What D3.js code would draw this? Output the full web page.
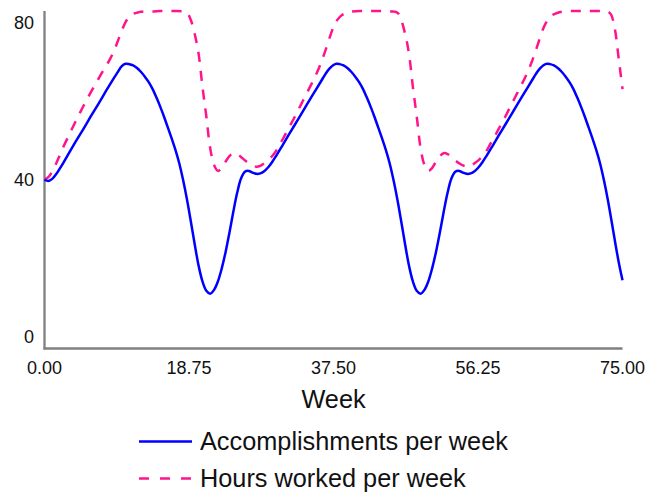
<!DOCTYPE html>
<html>
<head>
<meta charset="utf-8">
<script src="https://cdn.jsdelivr.net/npm/d3@7/dist/d3.min.js"></script>
<style>
  html, body { margin: 0; padding: 0; background: #fff; }
  svg { display: block; }
  text { font-family: "Liberation Sans", Arial, sans-serif; fill: #111; }
</style>
</head>
<body>
<div id="chart"></div>
<script>
// ---------- data ----------
const xTicks = [0, 18.75, 37.5, 56.25, 75];
const yTicks = [0, 40, 80];
const xLabel = "Week";
const seriesNames = ["Accomplishments per week", "Hours worked per week"];

const weeksAcc = [0,0.5,1,1.5,2,2.5,3,4,5,6,7,8,9,9.5,10,10.5,11,11.5,12,12.5,13,13.5,14,14.5,15,15.5,16,16.5,17,17.5,18,18.5,19,19.5,20,20.5,21,21.5,
  22,22.5,23,23.5,24,24.5,25,25.5,26,26.5,27,27.5,28,28.5,29,29.5,30,30.5,31,32,33,34,35,36,36.5,37,37.5,37.9,
  38.3,38.8,39.3,39.8,40.3,40.8,41.3,41.8,42.3,42.8,43.3,43.8,44.3,44.8,45.3,45.8,46.3,46.8,47.3,47.8,48.3,48.8,
  49.3,49.8,50.3,50.8,51.3,51.8,52.3,52.8,53.3,53.8,54.3,54.8,55.3,55.8,56.3,56.8,57.3,57.8,58.3,59.3,60.3,61.3,62.3,63.3,63.8,64.3,64.8,65.2,
  65.6,66.1,66.6,67.1,67.6,68.1,68.6,69.1,69.6,70.1,70.6,71.1,71.6,72.1,72.6,73.1,73.6,74.1,74.6,75];
const accomplishments = [40.0,39.7,40.2,41.3,42.7,44.2,45.8,48.9,51.9,55.0,58.0,61.1,64.1,65.5,66.9,67.5,67.4,67.1,66.5,65.6,64.5,63.2,61.6,59.6,57.4,55.0,52.4,49.8,47.0,43.8,39.8,35.2,30.0,24.6,19.6,15.9,13.7,13.0,
  13.9,15.9,19.0,22.9,27.5,32.4,36.9,40.3,41.9,42.1,41.7,41.4,41.5,42.0,42.9,44.1,45.5,47.0,48.5,51.6,54.6,57.7,60.7,63.7,65.2,66.4,67.2,67.5,
  67.4,67.1,66.5,65.6,64.5,63.2,61.6,59.6,57.4,55.0,52.4,49.8,47.0,43.8,39.8,35.2,30.0,24.6,19.6,15.9,13.7,13.0,
  13.9,15.9,19.0,22.9,27.5,32.4,36.9,40.3,41.9,42.1,41.7,41.4,41.5,42.0,42.9,44.1,45.5,47.0,48.5,51.6,54.6,57.7,60.7,63.7,65.2,66.4,67.2,67.5,
  67.4,67.1,66.5,65.6,64.5,63.2,61.6,59.6,57.4,55.0,52.4,49.8,47.0,43.8,39.8,35.2,30.0,24.6,19.6,16.2];

const weeksHours = [0,0.5,1,1.5,2,2.5,3,3.5,4,4.5,5,5.5,6,6.5,7,7.5,8,8.5,9,9.5,10,10.5,11,11.5,12,12.5,
  13,14,15,16,17,18,
  18.5,19,19.5,20,20.5,21,21.5,22,22.5,23,23.5,24,24.5,25,25.5,26,26.5,27,27.5,28,28.5,29,29.5,30,30.5,31,31.5,32,32.5,33,33.5,34,34.5,35,35.5,36,36.5,37,37.5,38,38.5,39,39.5,40,
  41,42,43,44,45,
  45.8,46.3,46.8,47.3,47.8,48.3,48.8,49.3,49.8,
  50.3,50.8,51.3,51.8,52.3,52.8,53.3,53.8,54.3,54.8,55.3,55.8,56.3,56.8,57.3,57.8,
  58.3,58.8,59.3,59.8,60.3,60.8,61.3,61.8,62.3,62.8,63.3,63.8,64.3,64.8,65.3,65.8,66.3,66.8,67.3,
  68.3,69.3,70.3,71.3,72.3,
  73,73.5,74,74.5,75];
const hours = [40.0,40.6,42.0,43.8,45.9,48.0,49.9,51.8,53.7,55.5,57.3,59.0,60.7,62.3,63.9,65.5,67.0,68.6,70.5,72.8,75.2,77.3,78.6,79.3,79.6,79.8,
  79.9,79.9,80.0,80.0,80.0,79.9,
  79.6,77.8,74.5,69.8,62.0,55.0,47.5,43.5,42.1,42.8,44.3,45.6,46.3,46.1,45.4,44.6,43.9,43.4,43.1,43.3,43.9,44.6,45.5,46.7,48.3,49.9,51.6,53.3,55.0,56.8,58.6,60.4,62.2,64.0,66.0,68.3,70.9,73.7,76.2,77.9,78.9,79.4,79.7,79.9,
  80.0,80.0,80.0,80.0,79.9,
  79.6,77.8,74.5,69.8,62.0,55.0,47.5,43.5,42.1,
  42.8,44.3,45.6,46.3,46.1,45.4,44.6,43.9,43.4,43.1,43.3,43.9,44.6,45.5,46.7,48.3,
  49.9,51.6,53.3,55.0,56.8,58.6,60.4,62.2,64.0,66.0,68.3,70.9,73.7,76.2,77.9,78.9,79.4,79.7,79.9,
  80.0,80.0,80.0,80.0,80.0,
  79.9,79.2,75.8,68.8,61.5];

// ---------- chart ----------
const W = 645, H = 493;
const svg = d3.select("#chart").append("svg").attr("width", W).attr("height", H);

const x = d3.scaleLinear().domain([0, 75]).range([44.5, 622.5]);
const y = d3.scaleLinear().domain([0, 80]).range([348.5, 11]);

const axisColor = "#808080";
const blue = "#0000ff";
const pink = "#ff148c";

// axes lines
svg.append("line").attr("x1", x(0)).attr("x2", x(0)).attr("y1", y(80)).attr("y2", y(0) + 1)
  .attr("stroke", axisColor).attr("stroke-width", 2.3);
svg.append("line").attr("x1", x(0) - 1).attr("x2", x(75)).attr("y1", y(0)).attr("y2", y(0))
  .attr("stroke", axisColor).attr("stroke-width", 2.3);

// y tick labels (top hangs, middle centered, bottom sits on axis)
svg.selectAll("text.ytick").data(yTicks).enter().append("text")
  .attr("class", "ytick")
  .attr("x", 34).attr("y", d => y(d))
  .attr("dy", (d, i) => i === 0 ? -6 : (i === yTicks.length - 1 ? 18 : 6.5))
  .attr("text-anchor", "end").style("font-size", "18px")
  .text(d => d);

// x tick labels
svg.selectAll("text.xtick").data(xTicks).enter().append("text")
  .attr("class", "xtick")
  .attr("x", d => x(d)).attr("y", 374)
  .attr("text-anchor", "middle").style("font-size", "18px")
  .text(d => d3.format(".2f")(d));

// x axis title
svg.append("text").attr("x", (x(0) + x(75)) / 2).attr("y", 408)
  .attr("text-anchor", "middle").style("font-size", "25.3px").text(xLabel);

// lines
const line = d3.line().x(d => x(d[0])).y(d => y(d[1])).curve(d3.curveCatmullRom.alpha(0.5));

svg.append("path").datum(d3.zip(weeksHours, hours))
  .attr("d", line).attr("fill", "none")
  .attr("stroke", pink).attr("stroke-width", 2.5).attr("stroke-dasharray", "10,9");

svg.append("path").datum(d3.zip(weeksAcc, accomplishments))
  .attr("d", line).attr("fill", "none")
  .attr("stroke", blue).attr("stroke-width", 2.5);

// legend
const legend = svg.append("g");
const rows = [
  { name: seriesNames[0], color: blue, dash: null, y: 441.5 },
  { name: seriesNames[1], color: pink, dash: "10,11", y: 478.5 }
];
rows.forEach(r => {
  legend.append("line").attr("x1", 139).attr("x2", 192).attr("y1", r.y).attr("y2", r.y)
    .attr("stroke", r.color).attr("stroke-width", 2.5)
    .attr("stroke-dasharray", r.dash);
  legend.append("text").attr("x", 200).attr("y", r.y + 8.5)
    .style("font-size", "25.3px").text(r.name);
});
</script>
</body>
</html>
